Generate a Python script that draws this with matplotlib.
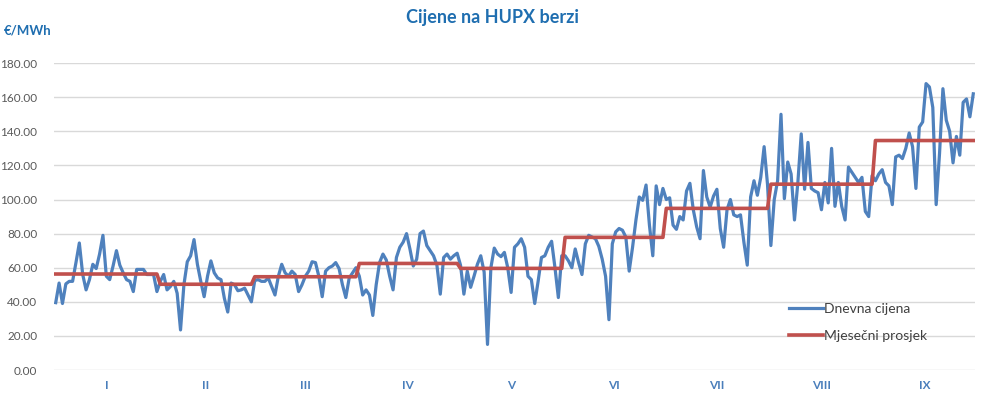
import numpy as np
import matplotlib.pyplot as plt

# dnevne cijene (EUR/MWh), 1.1. - 30.9.
jan = [39.5, 51, 39, 50.5, 52, 52, 63, 74.5, 56, 47, 53, 62, 59.5, 68, 79, 55,
       53, 61, 70, 61.5, 57, 53, 52, 46, 59, 59, 59, 56, 56, 56, 46]
feb = [52, 56, 47, 49, 52, 45, 23.5, 50, 63.5, 67, 76.5, 62, 52, 43, 55, 64,
       57, 54, 53, 42, 34, 51, 50, 46.5, 47, 48, 44, 40]
mar = [52.5, 53, 52, 52, 54, 49, 44, 55, 62, 57, 55, 58, 56, 46, 50, 55, 58,
       63.5, 63, 55, 43, 58, 60, 61, 63, 59.5, 50, 42.5, 54, 57, 60]
apr = [55, 44, 47, 44, 32, 50, 63, 68, 64.5, 55, 47, 66, 72, 75, 80, 71, 61,
       65, 80, 81.5, 73, 70, 67, 61.5, 44.5, 66, 68, 65, 67, 68.5]
may = [61.5, 44.5, 58, 48.5, 55, 62, 67, 57.5, 15, 60, 71.5, 68, 66.5, 69, 60,
       45.5, 72, 74, 77, 72, 55, 53, 39, 52, 66, 67, 72, 75.5, 60, 42.5, 67]
jun = [67, 64, 60, 71, 63, 56, 74, 79, 78, 77, 72.5, 65, 55, 29.5, 74, 81, 83,
       82, 78, 58, 72, 88, 101.5, 99.5, 108.5, 85, 67, 108, 97, 106.5]
jul = [100, 101, 85, 82.5, 90, 88, 105, 109.5, 94, 84, 77, 117, 101.5, 95.5,
       102, 106, 83, 72, 94, 100, 91, 90, 91, 75, 61.5, 101.5, 111, 102.5, 113,
       131, 109]
aug = [73, 100, 111, 150, 100.5, 122, 115, 88, 110, 138.5, 106, 133.5, 106.5,
       105, 104, 94, 110, 98, 130, 96, 110, 96, 88, 119, 116, 113, 110, 113, 93,
       90, 114]
sep = [111, 115, 117.5, 110, 108, 97, 125, 126, 124, 130, 139, 131, 106.5,
       142.5, 145.5, 168, 166, 154, 97, 127, 165, 146.5, 140, 121.5, 137, 126,
       157, 159, 148.5, 162]

months = ["I", "II", "III", "IV", "V", "VI", "VII", "VIII", "IX"]
monthly_avg = [56.3, 50.3, 54.7, 62.5, 59.6, 77.8, 94.8, 109.0, 134.6]

daily_by_month = [jan, feb, mar, apr, may, jun, jul, aug, sep]
daily = np.concatenate(daily_by_month)
avg_line = np.concatenate([[a] * len(m) for a, m in zip(monthly_avg, daily_by_month)])
days = np.arange(1, len(daily) + 1)

blue = "#4f81bd"
red = "#c0504d"
txt_blue = "#1f6eb0"
grey = "#595959"

fig = plt.figure(figsize=(9.86, 3.97), dpi=100)
ax = fig.add_axes([0.0548, 0.068, 0.934, 0.773])

ax.plot(days, daily, color=blue, lw=2.3, label="Dnevna cijena", zorder=3)
ax.plot(days, avg_line, color=red, lw=2.6, label="Mjesečni prosjek", zorder=4)

ax.set_xlim(0.5, len(daily) + 0.5)
ax.set_ylim(0, 180)
ax.set_yticks(np.arange(0, 181, 20))
ax.set_yticklabels([f"{v:.2f}" for v in np.arange(0, 181, 20)],
                   fontsize=8.5, color=grey, family="Lato")
ax.grid(axis="y", color="#d9d9d9", lw=1)
ax.set_axisbelow(True)
for s in ax.spines.values():
    s.set_visible(False)
ax.tick_params(length=0, pad=12)

# oznake mjeseci
starts = np.cumsum([0] + [len(m) for m in daily_by_month])
centers = (starts[:-1] + starts[1:]) / 2 + 0.5
ax.set_xticks(centers)
ax.set_xticklabels(months, fontsize=8.5, color="#4a7ebb", fontweight="bold", family="Lato")
ax.tick_params(axis="x", pad=7)

fig.text(0.5, 0.955, "Cijene na HUPX berzi", ha="center", va="center",
         fontsize=13, fontweight="bold", color=txt_blue, family="Lato")
fig.text(0.004, 0.922, "€/MWh", ha="left", va="center",
         fontsize=9.5, fontweight="bold", color=txt_blue, family="Lato")

leg = ax.legend(loc="upper left", bbox_to_anchor=(0.785, 0.26), frameon=False,
                handlelength=2.4, handletextpad=0.1, labelspacing=1.1,
                prop={"family": "Lato", "size": 10})
for t in leg.get_texts():
    t.set_color("#404040")

fig.savefig("out.png", dpi=100)
